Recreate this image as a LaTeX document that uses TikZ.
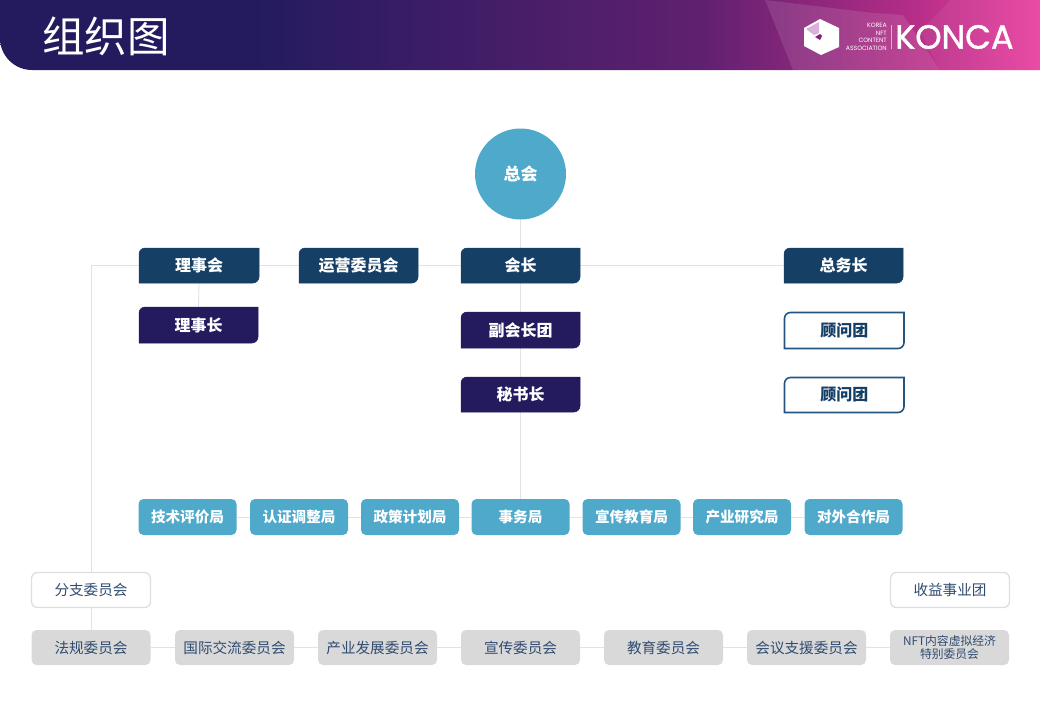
\documentclass[tikz,border=0pt]{standalone}
\usepackage{fontspec}
\setmainfont{Noto Sans CJK SC}
\newfontfamily\logofont{Poppins}
\newfontfamily\konfont[FakeBold=1.3]{Poppins}
\pgfdeclarelayer{bg}
\pgfsetlayers{bg,main}
\definecolor{navy}{HTML}{163F66}
\definecolor{indigo}{HTML}{231B5E}
\definecolor{skyb}{HTML}{4FA9CB}
\definecolor{graybox}{HTML}{D9D9D9}
\definecolor{wire}{HTML}{E2E2E2}
\definecolor{ink}{HTML}{2F4B70}
\definecolor{edge}{HTML}{DEDEDE}
\definecolor{okline}{HTML}{245482}
\definecolor{gradA}{HTML}{5F2070}
\definecolor{gradB}{HTML}{B02C85}
\definecolor{gradC}{HTML}{EA409F}
% the shading's 25bp..75bp band is what covers the path's width
\pgfdeclarehorizontalshading{headshade}{100bp}{
  color(0bp)=(indigo); color(37bp)=(indigo);
  color(58.65bp)=(gradA); color(68.3bp)=(gradB); color(75bp)=(gradC); color(100bp)=(gradC)}
\tikzset{
  conn/.style={draw=wire,line width=0.9pt},
  taglabel/.style={inner sep=0pt,align=center,font=\fontsize{16}{17}\selectfont\bfseries},
}
\newlength\tagw
% \tagshape{name}{x1}{y1}{x2}{y2}{fill}{edge}{textcolor}{text}: top-left and bottom-right corners rounded
\newcommand\tagshape[9]{%
  \fill[#6,draw=#7,line width=\tagw]
    (#2,#5) -- (#2,#3+6) .. controls (#2,#3+2.7) and (#2+2.7,#3) .. (#2+6,#3) -- (#4,#3)
    -- (#4,#5-6) .. controls (#4,#5-2.7) and (#4-2.7,#5) .. (#4-6,#5) -- cycle;
  \node[taglabel,text=#8,minimum width=#4pt-#2pt,minimum height=#5pt-#3pt] (#1) at ({(#2+#4)/2},{(#3+#5)/2}) {#9};
}
\begin{document}
\begin{tikzpicture}[x=1pt,y=-1pt]
\useasboundingbox (0,0) rectangle (1040,720);
% header
\path[shade,shading=headshade]
  (0,0) -- (1040,0) -- (1040,70) -- (32,70) .. controls (14.3,70) and (0,55.7) .. (0,38) -- cycle;
\fill[white,opacity=.11] (765,0) -- (873,13) -- (903,15) -- (940,70) -- (793,70) -- cycle;
\fill[white,opacity=.06] (950,0) -- (1040,0) -- (1040,70) -- (940,70) -- (920,32) -- cycle;
\node[inner sep=0pt,text=white,anchor=west,font=\fontsize{42.5}{42.5}\selectfont] (title) at (42,36) {组织图};
% logo
\fill[white] (820,19) -- (839,28) -- (839,47) -- (821,55) -- (804,46) -- (804,28) -- cycle;
\fill[white!70!violet] (806,29) -- (819,22) -- (819,33) -- (814,35) -- cycle;
\fill[gradA!60!gradB] (815,37) -- (820,34) -- (822,36) -- (820,40) -- cycle;
\node[text=white,inner sep=0pt,align=right,anchor=east,font=\logofont\fontsize{6.2}{7.6}\selectfont] (assoc) at (887,37) {KOREA\\NFT\\CONTENT\\ASSOCIATION};
\node[text=white,inner sep=0pt,anchor=west,font=\konfont\fontsize{33.5}{33.5}\selectfont] (konca) at (895,37) {KONCA};
\fill[white,opacity=.6] (890.5,25) rectangle (891,49);
% top
\node[circle,fill=skyb,minimum size=91pt,inner sep=0pt,text=white,font=\fontsize{17}{19}\selectfont\bfseries] (zong) at (520.5,174) {总会};
\setlength\tagw{0.5pt}
\tagshape{lsh}{139}{248}{259}{283}{navy}{navy}{white}{理事会}
\tagshape{yy}{299}{248}{418}{283}{navy}{navy}{white}{运营委员会}
\tagshape{hz}{461}{248}{580}{283}{navy}{navy}{white}{会长}
\tagshape{zw}{784}{248}{903}{283}{navy}{navy}{white}{总务长}
\tagshape{lsz}{139}{307}{258}{343}{indigo}{indigo}{white}{理事长}
\tagshape{fh}{461}{312}{580}{348}{indigo}{indigo}{white}{副会长团}
\tagshape{ms}{461}{377}{580}{412}{indigo}{indigo}{white}{秘书长}
\setlength\tagw{1.6pt}
\tagshape{gw}{784.5}{312.5}{904}{348.5}{white}{okline}{navy}{顾问团}
\tagshape{gwb}{784.5}{377.5}{904}{412.5}{white}{okline}{navy}{顾问团}
% blue row
\tikzset{bluebox/.style={fill=skyb,rounded corners=5pt,inner sep=0pt,text=white,minimum width=98pt,minimum height=36pt,font=\fontsize{14.6}{16}\selectfont\bfseries}}
\node[bluebox] (b1) at (187.5,517) {技术评价局};
\node[bluebox] (b2) at (299,517) {认证调整局};
\node[bluebox] (b3) at (410,517) {政策计划局};
\node[bluebox] (b4) at (520.5,517) {事务局};
\node[bluebox] (b5) at (631.5,517) {宣传教育局};
\node[bluebox] (b6) at (742,517) {产业研究局};
\node[bluebox] (b7) at (853.5,517) {对外合作局};
% white boxes
\tikzset{
  whitebox/.style={fill=white,draw=edge,line width=1.3pt,rounded corners=6pt,inner sep=0pt,text=ink,minimum width=119pt,minimum height=35pt,font=\fontsize{14.6}{16}\selectfont},
  grbox/.style={fill=graybox,rounded corners=5pt,inner sep=0pt,text=ink,minimum width=119pt,minimum height=35pt,align=center,font=\fontsize{14.6}{16}\selectfont}}
\node[whitebox] (fz) at (91,590) {分支委员会};
\node[whitebox] (sy) at (950,590) {收益事业团};
\node[grbox] (g1) at (91,647.5) {法规委员会};
\node[grbox] (g2) at (234.5,647.5) {国际交流委员会};
\node[grbox] (g3) at (377.5,647.5) {产业发展委员会};
\node[grbox] (g4) at (520.5,647.5) {宣传委员会};
\node[grbox] (g5) at (663.5,647.5) {教育委员会};
\node[grbox] (g6) at (806.5,647.5) {会议支援委员会};
\node[grbox,font=\fontsize{11.8}{12.5}\selectfont] (g7) at (949.5,647.5) {NFT内容虚拟经济\\特别委员会};
% connectors
\begin{pgfonlayer}{bg}
\draw[conn] (lsh.west) -| (fz.north);
\draw[conn] (fz.south) -- (g1.north);
\draw[conn] (lsh.south) -- (lsz.north);
\draw[conn] (lsh.east) -- (yy.west);
\draw[conn] (yy.east) -- (hz.west);
\draw[conn] (hz.east) -- (zw.west);
\draw[conn] (zong.south) -- (b4.north);
\draw[conn] (b1.east) -- (b2.west);
\draw[conn] (b2.east) -- (b3.west);
\draw[conn] (b3.east) -- (b4.west);
\draw[conn] (b4.east) -- (b5.west);
\draw[conn] (b5.east) -- (b6.west);
\draw[conn] (b6.east) -- (b7.west);
\draw[conn] (g1.east) -- (g2.west);
\draw[conn] (g2.east) -- (g3.west);
\draw[conn] (g3.east) -- (g4.west);
\draw[conn] (g4.east) -- (g5.west);
\draw[conn] (g5.east) -- (g6.west);
\draw[conn] (g6.east) -- (g7.west);
\end{pgfonlayer}
\end{tikzpicture}
\end{document}
